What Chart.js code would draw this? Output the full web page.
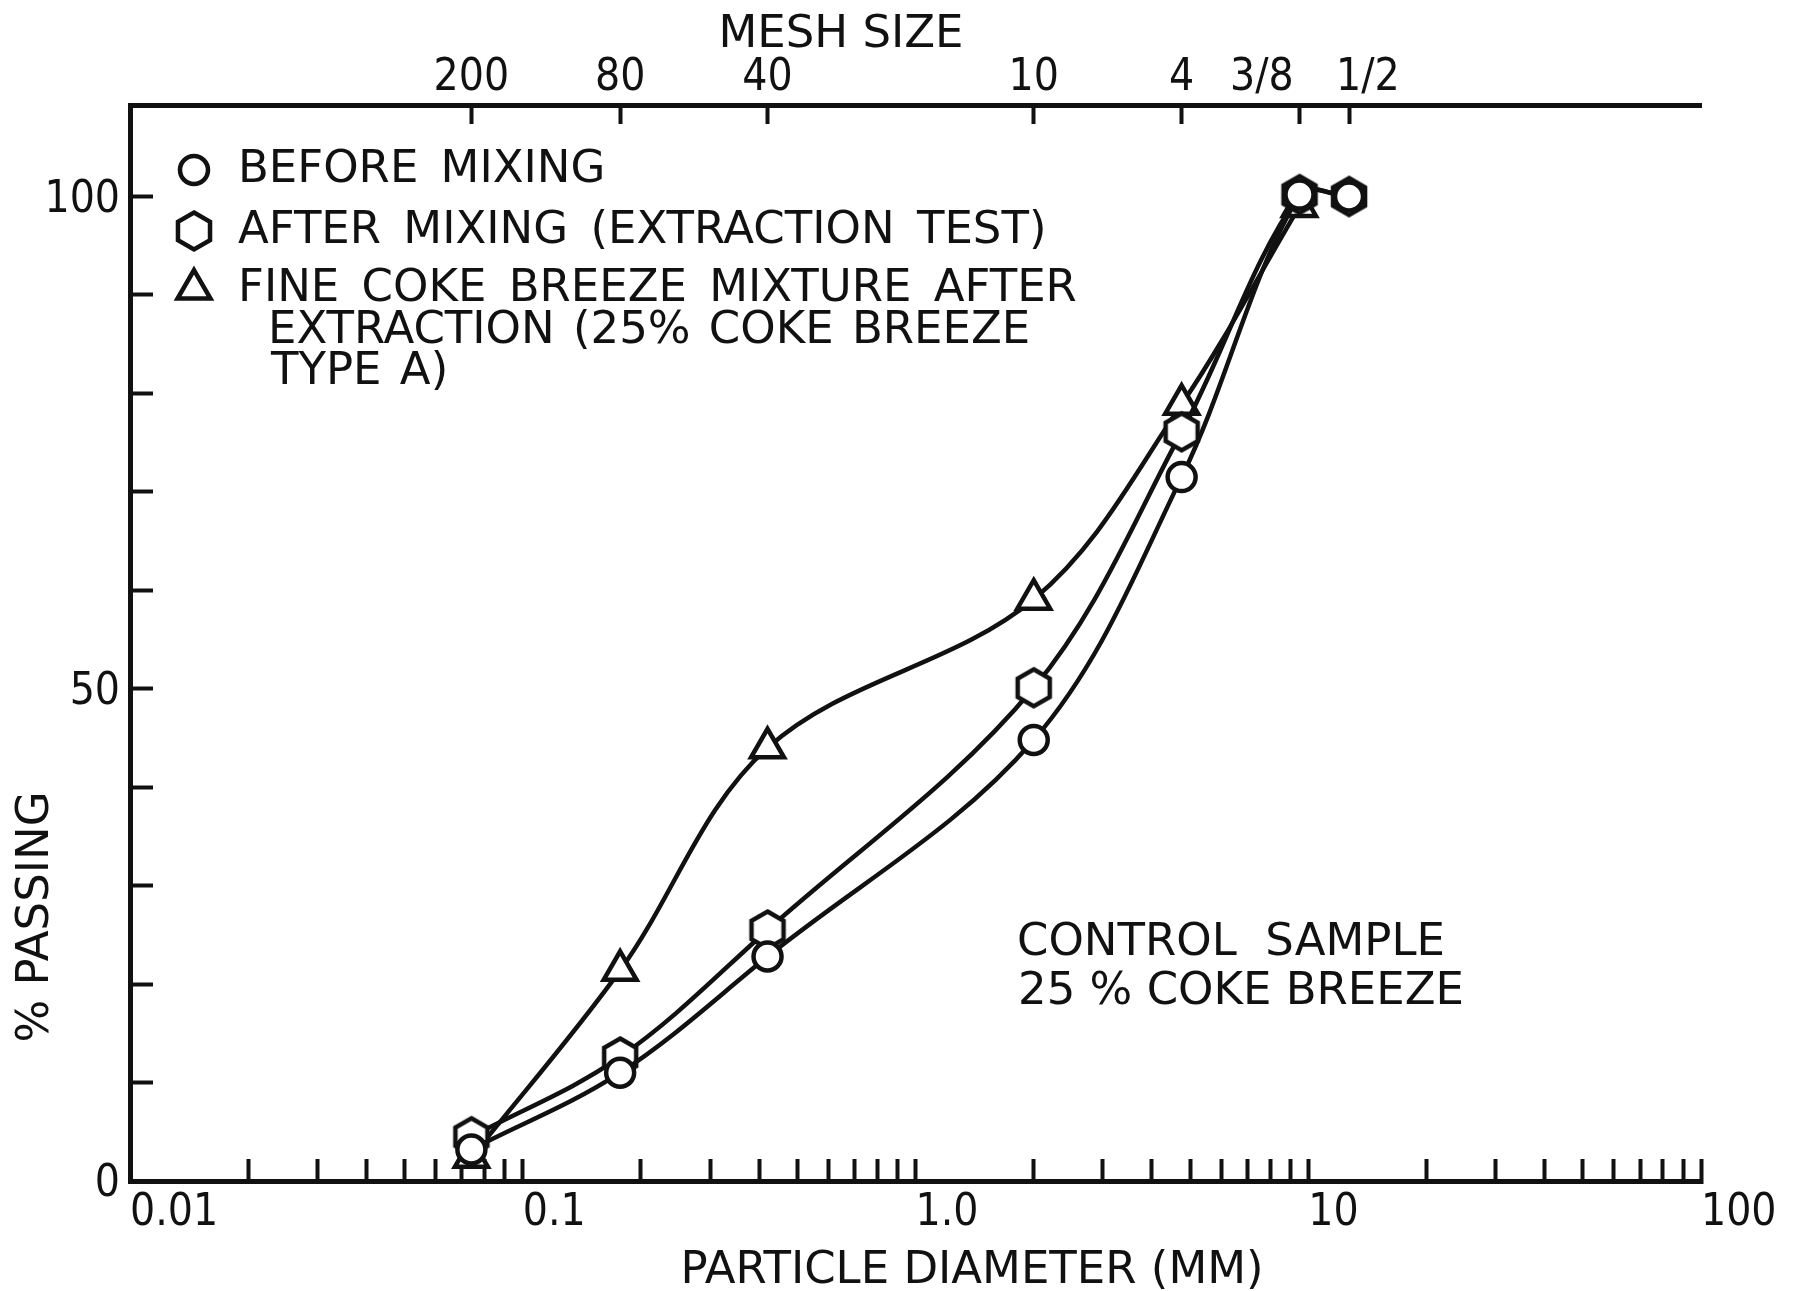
<!DOCTYPE html>
<html>
<head>
<meta charset="utf-8">
<style>
  html, body { margin: 0; padding: 0; background: #ffffff; }
  canvas { display: block; }
</style>
<script src="https://cdn.jsdelivr.net/npm/chart.js"></script>
</head>
<body>
<canvas id="chart" width="1795" height="1291"></canvas>
<script>
// ---------------- DATA ----------------
const sieveMm = [0.074, 0.177, 0.42, 2.0, 4.76, 9.5, 12.7];
const beforeMixing = [3.2, 11.0, 22.8, 44.8, 71.5, 100.2, 100.0];
const afterMixing = [4.5, 12.6, 25.5, 50.1, 76.1, 100.2, 100.0];
const fineCokeMixture = [2.4, 21.4, 44.0, 59.1, 78.9, 99.0];

const meshLabels = ['200', '80', '40', '10', '4', '3/8      ', '   1/2'];
const meshMm = [0.074, 0.177, 0.42, 2.0, 4.76, 9.5, 12.7];

const decadeValues = [0.01, 0.1, 1, 10, 100];
const decadeLabels = ['0.01', '0.1', '1.0', '10', '100'];
const yTickValues = [0, 10, 20, 30, 40, 50, 60, 70, 80, 90, 100];
const yLabelled = [0, 50, 100];

const seriesNames = ['BEFORE MIXING', 'AFTER MIXING (EXTRACTION TEST)', 'FINE COKE BREEZE MIXTURE AFTER'];
const legendExtraLines = ['EXTRACTION (25% COKE BREEZE', 'TYPE A)'];
const noteLines = ['CONTROL  SAMPLE', '25 % COKE BREEZE'];
const xTitle = 'PARTICLE DIAMETER (MM)';
const x2Title = 'MESH SIZE';
const yTitle = '% PASSING';

// ---------------- STYLE ----------------
const ink = '#111111';
const numFont = { family: "'DejaVu Sans Condensed', 'DejaVu Sans', sans-serif", size: 44 };
const textFont = "45px 'DejaVu Sans', sans-serif";

// minor log ticks 1..9 x 10^k
const xTickValues = [];
for (let d = 0; d < decadeValues.length - 1; d++) {
  for (let m = 1; m <= 9; m++) xTickValues.push(parseFloat((m * decadeValues[d]).toPrecision(3)));
}
xTickValues.push(decadeValues[decadeValues.length - 1]);

function makeHex(R, lw) {
  const s = Math.ceil(2 * R + 2 * lw + 6);
  const c = document.createElement('canvas');
  c.width = s; c.height = s;
  const g = c.getContext('2d');
  g.translate(s / 2, s / 2);
  g.beginPath();
  for (let i = 0; i < 6; i++) {
    const a = -Math.PI / 2 + i * Math.PI / 3;
    const px = R * Math.cos(a), py = R * Math.sin(a);
    if (i) g.lineTo(px, py); else g.moveTo(px, py);
  }
  g.closePath();
  g.fillStyle = '#ffffff';
  g.fill();
  g.lineWidth = lw;
  g.lineJoin = 'miter';
  g.strokeStyle = ink;
  g.stroke();
  return c;
}
const hexImg = makeHex(18.5, 4.5);

function pts(xs, ys) { return ys.map((y, i) => ({ x: xs[i], y: y })); }

const common = {
  borderColor: ink,
  borderWidth: 4.5,
  backgroundColor: '#ffffff',
  pointBackgroundColor: '#ffffff',
  pointBorderColor: ink,
  pointBorderWidth: 4.5,
  tension: 0.35,
  fill: false,
  xAxisID: 'x',
  yAxisID: 'y'
};

function drawMarker(c, style, x, y) {
  c.save();
  c.lineWidth = 4.5;
  c.strokeStyle = ink;
  c.fillStyle = '#ffffff';
  if (style === 'circle') {
    c.beginPath(); c.arc(x, y, 14, 0, Math.PI * 2); c.fill(); c.stroke();
  } else if (style === 'hex') {
    c.drawImage(hexImg, x - hexImg.width / 2, y - hexImg.height / 2);
  } else {
    const r = 19;
    c.beginPath();
    for (let i = 0; i < 3; i++) {
      const a = i * 2 * Math.PI / 3;
      const px = x + Math.sin(a) * r, py = y - Math.cos(a) * r;
      if (i) c.lineTo(px, py); else c.moveTo(px, py);
    }
    c.closePath(); c.fill(); c.stroke();
  }
  c.restore();
}

const textPlugin = {
  id: 'textPlugin',
  afterDraw(chart) {
    const c = chart.ctx;
    c.save();
    c.fillStyle = ink;
    c.font = textFont;
    c.textBaseline = 'middle';
    c.textAlign = 'left';

    // legend
    const legendX = 194, textX = 238;
    const rows = [170, 231, 289];
    const styles = ['circle', 'hex', 'tri'];
    c.wordSpacing = '8px';
    for (let i = 0; i < 3; i++) {
      drawMarker(c, styles[i], legendX, rows[i]);
      c.fillStyle = ink;
      c.fillText(seriesNames[i], textX, rows[i]);
    }
    c.wordSpacing = '4px';
    c.fillText(legendExtraLines[0], 268, 331);
    c.fillText(legendExtraLines[1], 271, 372);
    c.wordSpacing = '0px';

    // note
    c.fillText(noteLines[0], 1017, 943);
    c.fillText(noteLines[1], 1018, 992);

    // axis titles
    c.textAlign = 'center';
    c.fillText(x2Title, 841, 35);
    c.fillText(xTitle, 972, 1271);
    c.translate(36, 917);
    c.rotate(-Math.PI / 2);
    c.fillText(yTitle, 0, 0);
    c.restore();
  }
};

new Chart(document.getElementById('chart').getContext('2d'), {
  type: 'line',
  data: {
    datasets: [
      Object.assign({}, common, { label: seriesNames[0], data: pts(sieveMm, beforeMixing), pointStyle: 'circle', pointRadius: 14 }),
      Object.assign({}, common, { label: seriesNames[1], data: pts(sieveMm, afterMixing), pointStyle: hexImg, pointRadius: 18 }),
      Object.assign({}, common, { label: seriesNames[2], data: pts(sieveMm, fineCokeMixture), pointStyle: 'triangle', pointRadius: 19 })
    ]
  },
  options: {
    responsive: false,
    animation: false,
    devicePixelRatio: 1,
    events: [],
    layout: { padding: { left: 0, top: 0, right: 94, bottom: 0 } },
    plugins: { legend: { display: false }, tooltip: { enabled: false }, title: { display: false } },
    scales: {
      x: {
        type: 'logarithmic', position: 'bottom', min: 0.01, max: 100,
        afterBuildTicks: s => { s.ticks = xTickValues.map(v => ({ value: v })); },
        afterFit: s => { s.height = 110; s.paddingLeft = 0; s.paddingRight = 0; },
        ticks: {
          autoSkip: false, maxRotation: 0, minRotation: 0, align: 'start', padding: 28,
          color: ink, font: numFont,
          callback: (v) => {
            const i = decadeValues.findIndex(d => Math.abs(d - v) / d < 1e-6);
            return i >= 0 ? decadeLabels[i] : '';
          }
        },
        grid: { display: true, drawOnChartArea: false, drawTicks: true, tickLength: -22, tickWidth: 4, tickColor: ink },
        border: { display: true, color: ink, width: 5 }
      },
      x2: {
        type: 'logarithmic', position: 'top', min: 0.01, max: 100,
        afterBuildTicks: s => { s.ticks = meshMm.map(v => ({ value: v })); },
        afterFit: s => { s.height = 105; s.paddingLeft = 0; s.paddingRight = 0; },
        ticks: {
          autoSkip: false, maxRotation: 0, minRotation: 0, padding: 19,
          color: ink, font: numFont,
          callback: (v, i) => meshLabels[i]
        },
        grid: { display: true, drawOnChartArea: false, drawTicks: true, tickLength: -19, tickWidth: 4, tickColor: ink },
        border: { display: true, color: ink, width: 5 }
      },
      y: {
        type: 'linear', position: 'left', min: 0, max: 109.3,
        afterBuildTicks: s => { s.ticks = yTickValues.map(v => ({ value: v })); },
        afterFit: s => { s.width = 130; },
        ticks: {
          autoSkip: false, padding: 33, labelOffset: 4, color: ink, font: numFont,
          callback: (v) => (yLabelled.includes(v) ? String(v) : '')
        },
        grid: { display: true, drawOnChartArea: false, drawTicks: true, tickLength: -23, tickWidth: 4, tickColor: ink },
        border: { display: true, color: ink, width: 5 }
      }
    }
  },
  plugins: [textPlugin]
});
</script>
</body>
</html>
